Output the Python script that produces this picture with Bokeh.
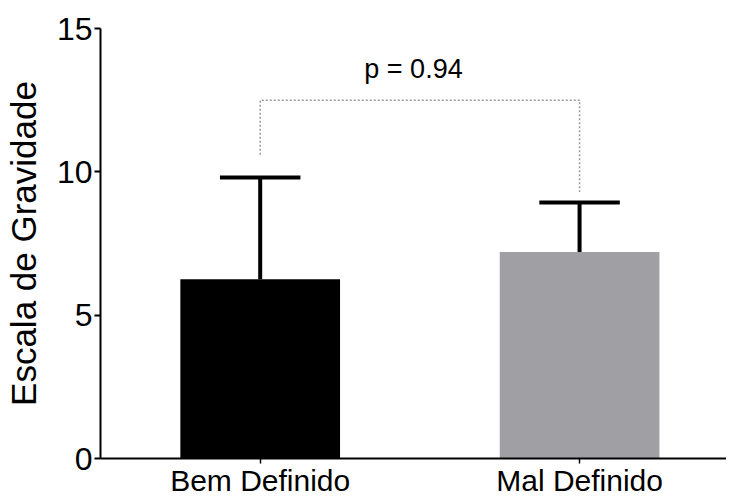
from bokeh.plotting import figure
from bokeh.models import Range1d, FixedTicker
from bokeh.core.properties import value
from bokeh.embed import file_html
from bokeh.resources import INLINE

# ---- data ----
categories = ["Bem Definido", "Mal Definido"]
means = [6.25, 7.2]
upper = [9.8, 8.93]          # mean + SD
bar_colors = ["#000000", "#a09fa4"]
y_ticks = [0, 5, 10, 15]
bracket_y = 12.5
bracket_ends = [10.6, 9.3]   # lower ends of the dotted bracket legs
p_label = "p = 0.94"

FONT = "Liberation Sans"
xs = [i + 1 for i in range(len(categories))]

p = figure(width=726, height=499, x_range=Range1d(0.5, 2.46), y_range=Range1d(0, 15),
           output_backend="svg", toolbar_location=None,
           min_border_left=89, min_border_top=28, min_border_right=0, min_border_bottom=0)
p.outline_line_color = None
p.xgrid.visible = False
p.ygrid.visible = False
p.background_fill_color = "white"
p.border_fill_color = "white"

# bars
p.vbar(x=xs, top=means, bottom=0, width=0.5, fill_color=bar_colors, line_color=None)

# error bars (upper only)
p.segment(x0=xs, y0=means, x1=xs, y1=upper, line_color="black", line_width=4)
p.segment(x0=[x - 0.126 for x in xs], y0=upper, x1=[x + 0.126 for x in xs], y1=upper,
          line_color="black", line_width=4)

# significance bracket
p.line(x=[xs[0], xs[0], xs[1], xs[1]], y=[bracket_ends[0], bracket_y, bracket_y, bracket_ends[1]],
       line_color="#9a9a9a", line_width=1.5, line_dash="2 2")
p.text(x=[(xs[0] + xs[1]) / 2 - 0.02], y=[bracket_y + 1.1], text=[p_label],
       text_font=value(FONT), text_font_size="27px", text_color="black",
       text_align="center", text_baseline="alphabetic")

# y axis
ya = p.yaxis[0]
ya.ticker = FixedTicker(ticks=y_ticks)
ya.minor_tick_line_color = None
ya.major_tick_in = 0
ya.major_tick_out = 6
ya.major_tick_line_width = 2
ya.axis_line_width = 2
ya.axis_line_color = "black"
ya.major_tick_line_color = "black"
ya.major_label_text_font = FONT
ya.major_label_text_font_size = "32px"
ya.major_label_text_color = "black"
ya.major_label_standoff = 2
ya.axis_label = "Escala de Gravidade"
ya.axis_label_text_font = FONT
ya.axis_label_text_font_size = "35px"
ya.axis_label_text_font_style = "normal"
ya.axis_label_text_color = "black"
ya.axis_label_standoff = 11

# x axis
xa = p.xaxis[0]
xa.ticker = FixedTicker(ticks=xs)
xa.major_label_overrides = {x: c for x, c in zip(xs, categories)}
xa.minor_tick_line_color = None
xa.major_tick_in = 0
xa.major_tick_out = 5
xa.major_tick_line_width = 1.5
xa.axis_line_width = 2
xa.axis_line_color = "black"
xa.major_label_text_font = FONT
xa.major_label_text_font_size = "30px"
xa.major_label_text_color = "black"
xa.major_label_standoff = 0

open("out.html", "w").write(file_html(p, INLINE))
